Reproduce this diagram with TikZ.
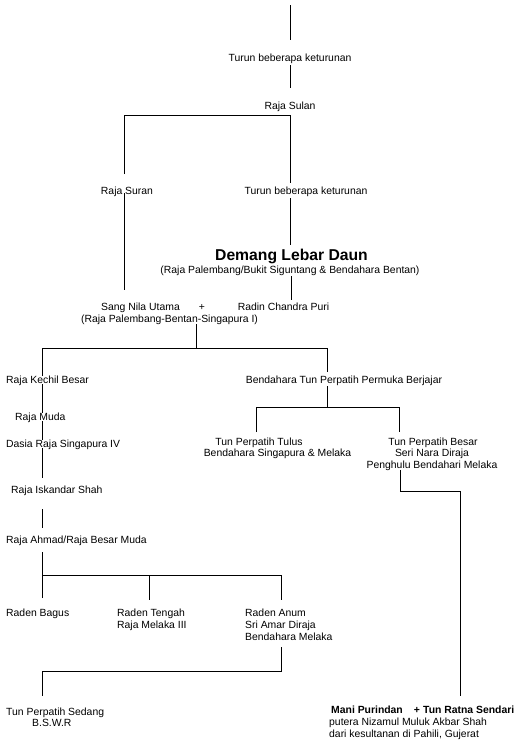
\documentclass[tikz,border=0pt]{standalone}
\usepackage{fontspec}
\setmainfont{Liberation Sans}
\begin{document}
\begin{tikzpicture}[x=1pt,y=-1pt,
  lbl/.style={inner sep=0pt, font=\fontsize{10.4}{12}\selectfont, anchor=base},
  lblw/.style={lbl, anchor=base west},
  boldtxt/.style={font=\fontsize{10.4}{12}\selectfont\bfseries},
  conn/.style={line width=1pt, line cap=butt, line join=miter}]
\useasboundingbox[fill=white] (0,0) rectangle (520,740);

% ---------- text nodes ----------
\node[lbl] (t1) at (290,61) {Turun beberapa keturunan};
\node[lbl] (sulan) at (290,109) {Raja Sulan};
\node[lbl] (suran) at (127,194) {Raja Suran};
\node[lbl] (t2) at (306,194) {Turun beberapa keturunan};
\node[lbl, font=\fontsize{15.7}{18}\selectfont\bfseries] (demang) at (291.5,260.5) {Demang Lebar Daun};
\node[lbl] (demangsub) at (290,273) {(Raja Palembang/Bukit Siguntang \& Bendahara Bentan)};
\node[lbl] (sang) at (140.5,310) {Sang Nila Utama};
\node[lbl] (plusA) at (202,310) {+};
\node[lbl] (radin) at (283.5,310) {Radin Chandra Puri};
\node[lbl] (sangsub) at (169.5,322) {(Raja Palembang-Bentan-Singapura I)};
\node[lblw] (kechil) at (6,383) {Raja Kechil Besar};
\node[lbl] (bendahara) at (344,383) {Bendahara Tun Perpatih Permuka Berjajar};
\node[lblw] (muda) at (15,420) {Raja Muda};
\node[lblw] (dasia) at (6,447) {Dasia Raja Singapura IV};
\node[lbl] (tulus) at (259,445) {Tun Perpatih Tulus};
\node[lbl] (tulusB) at (277.5,456.5) {Bendahara Singapura \& Melaka};
\node[lbl] (besar) at (433,445) {Tun Perpatih Besar};
\node[lbl] (besarB) at (432,456.5) {Seri Nara Diraja};
\node[lbl] (besarC) at (432,468) {Penghulu Bendahari Melaka};
\node[lblw] (iskandar) at (11,493) {Raja Iskandar Shah};
\node[lblw] (ahmad) at (6,543) {Raja Ahmad/Raja Besar Muda};
\node[lblw] (bagus) at (6,616) {Raden Bagus};
\node[lblw] (tengah) at (117,616) {Raden Tengah};
\node[lblw] (tengahB) at (117,628) {Raja Melaka III};
\node[lblw] (anum) at (245,616) {Raden Anum};
\node[lblw] (anumB) at (245,628) {Sri Amar Diraja};
\node[lblw] (anumC) at (245,640.5) {Bendahara Melaka};
\node[lblw] (sedang) at (6,715) {Tun Perpatih Sedang};
\node[lblw] (sedangB) at (32,726) {B.S.W.R};
\node[lblw, boldtxt] (mani) at (331,713.5) {Mani Purindan};
\node[lbl, boldtxt] (plusB) at (417,713.5) {+};
\node[lblw, boldtxt] (ratna) at (423,713.5) {Tun Ratna Sendari};
\node[lblw] (putera) at (329,725.5) {putera Nizamul Muluk Akbar Shah};
\node[lblw] (dari) at (329,737) {dari kesultanan di Pahili, Gujerat};

% ---------- junction / end coordinates ----------
\coordinate (topend) at (290,5);
\coordinate (t1top) at (290,40);
\coordinate (t1bot) at (290,65);
\coordinate (sulantop) at (290,88);
\coordinate (barL) at (124,115);
\coordinate (barR) at (290,115);
\coordinate (surantop) at (124,174);
\coordinate (t2top) at (290,183);
\coordinate (suranbot) at (124,193);
\coordinate (sangtop) at (124,290);
\coordinate (t2bot) at (290,198);
\coordinate (demangtop) at (290,245);
\coordinate (demangbot) at (291,276);
\coordinate (radintop) at (291,300);
\coordinate (sangbot) at (196,324);
\coordinate (barB) at (196,348);
\coordinate (barBL) at (42,348);
\coordinate (barBR) at (327,348);
\coordinate (kechiltop) at (42,376);
\coordinate (bendtop) at (327,372);
\coordinate (bendbot) at (327,386);
\coordinate (barC) at (327,407);
\coordinate (barCL) at (256,407);
\coordinate (barCR) at (399,407);
\coordinate (tulustop) at (256,432);
\coordinate (besartop) at (399,432);
\coordinate (besarbot) at (400,470);
\coordinate (elbowA) at (400,491);
\coordinate (elbowB) at (460,491);
\coordinate (manitop) at (460,696);
\coordinate (kechilbot) at (42,384);
\coordinate (mudatop) at (42,413);
\coordinate (mudabot) at (42,421);
\coordinate (dasiatop) at (42,440);
\coordinate (dasiabot) at (42,448);
\coordinate (iskandartop) at (42,478);
\coordinate (iskandarbot) at (42,509);
\coordinate (ahmadtop) at (42,528);
\coordinate (ahmadbot) at (42,552);
\coordinate (barD) at (42,575.5);
\coordinate (barDM) at (149,575.5);
\coordinate (barDR) at (281,575.5);
\coordinate (bagustop) at (42,598);
\coordinate (tengahtop) at (149,600);
\coordinate (anumtop) at (281,600);
\coordinate (anumbot) at (281,647);
\coordinate (elbowC) at (281,671);
\coordinate (elbowD) at (42,671);
\coordinate (sedangtop) at (42,696);

% ---------- connectors ----------
\draw[conn] (topend) -- (t1top);
\draw[conn] (t1bot) -- (sulantop);
\draw[conn] (surantop) -- (barL) -- (barR) -- (t2top);
\draw[conn] (suranbot) -- (sangtop);
\draw[conn] (t2bot) -- (demangtop);
\draw[conn] (demangbot) -- (radintop);
\draw[conn] (sangbot) -- (barB);
\draw[conn] (kechiltop) -- (barBL) -- (barBR) -- (bendtop);
\draw[conn] (bendbot) -- (barC);
\draw[conn] (tulustop) -- (barCL) -- (barCR) -- (besartop);
\draw[conn] (besarbot) -- (elbowA) -- (elbowB) -- (manitop);
\draw[conn] (kechilbot) -- (mudatop);
\draw[conn] (mudabot) -- (dasiatop);
\draw[conn] (dasiabot) -- (iskandartop);
\draw[conn] (iskandarbot) -- (ahmadtop);
\draw[conn] (ahmadbot) -- (barD);
\draw[conn] (bagustop) -- (barD) -- (barDR) -- (anumtop);
\draw[conn] (barDM) -- (tengahtop);
\draw[conn] (anumbot) -- (elbowC) -- (elbowD) -- (sedangtop);
\end{tikzpicture}
\end{document}
